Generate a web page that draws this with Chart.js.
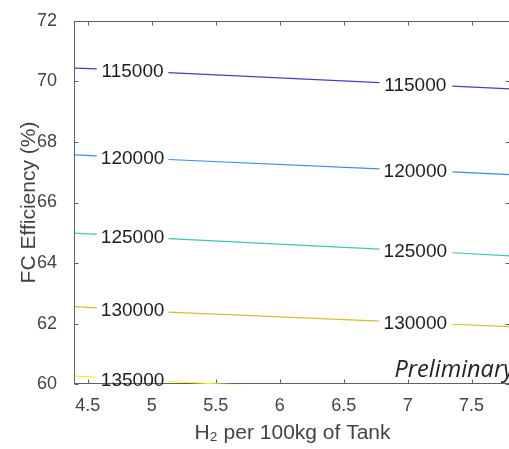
<!DOCTYPE html>
<html>
<head>
<meta charset="utf-8">
<script src="https://cdn.jsdelivr.net/npm/chart.js@4.4.1/dist/chart.umd.min.js"></script>
<style>
    html, body { margin: 0; padding: 0; overflow: hidden; background: #fff; }
    #grafico { display: block; }
</style>
</head>
<body>
<canvas id="grafico" width="512" height="449"></canvas>
<script>
// ── Dados ────────────────────────────────────────────────────────
const niveis   = ['115000', '120000', '125000', '130000', '135000'];
// pontos em x: as posições com null são as lacunas onde fica o rótulo
const xPontos  = [4.4, 4.57, 4.85, 5.13, 6.78, 7.06, 7.35, 7.8];
const posRotulos = [2, 5];   // índices de xPontos onde vai o texto

const y115000 = [70.44, 70.41, null, 70.29, 69.96, null, 69.84, 69.75];
const y120000 = [67.57, 67.54, null, 67.42, 67.11, null, 67.01, 66.92];
const y125000 = [64.99, 64.95, null, 64.81, 64.46, null, 64.34, 64.24];
const y130000 = [62.56, 62.52, null, 62.38, 62.08, null, 61.98, 61.90];
const y135000 = [60.27, 60.23, null, 60.09, 59.75, null, 59.63, 59.54];
const series  = [y115000, y120000, y125000, y130000, y135000];

const xTicks = [4.5, 5, 5.5, 6, 6.5, 7, 7.5];
const yTicks = [60, 62, 64, 66, 68, 70, 72];

const cores = ['#4b3cbf', '#3a8ef2', '#3fc6bb', '#d5be33', '#f4ef1e'];

const fonteBase = '"Liberation Sans", Arial, sans-serif';

// ── Moldura com ticks para dentro (estilo MATLAB) ────────────────
const molduraPlugin = {
    id: 'moldura',
    beforeDatasetsDraw(chart) {
        const { ctx, chartArea: a, scales: { x, y } } = chart;
        const L = Math.round(a.left) - 0.5, R = Math.round(a.right) - 0.5;
        const T = Math.round(a.top) + 0.5,  B = Math.round(a.bottom) - 0.5;
        ctx.save();
        ctx.strokeStyle = '#606060';
        ctx.lineWidth = 1;
        ctx.strokeRect(L, T, R - L, B - T);
        ctx.beginPath();
        xTicks.forEach(v => {
            const px = Math.round(x.getPixelForValue(v)) + 0.5;
            ctx.moveTo(px, B); ctx.lineTo(px, B - 4);
            ctx.moveTo(px, T); ctx.lineTo(px, T + 4);
        });
        yTicks.forEach(v => {
            const py = Math.round(y.getPixelForValue(v)) + 0.5;
            ctx.moveTo(L, py); ctx.lineTo(L + 4, py);
            ctx.moveTo(R, py); ctx.lineTo(R - 4, py);
        });
        ctx.stroke();
        ctx.restore();
    },
    afterDatasetsDraw(chart) {
        const { ctx, scales: { x, y } } = chart;
        ctx.save();
        ctx.font = '19px ' + fonteBase;
        ctx.fillStyle = '#1e1e1e';
        ctx.textAlign = 'center';
        ctx.textBaseline = 'middle';
        chart.data.datasets.forEach((ds, i) => {
            posRotulos.forEach(k => {
                const yv = (series[i][k - 1] + series[i][k + 1]) / 2;
                if (yv < y.min) return;
                ctx.fillText(niveis[i], x.getPixelForValue(xPontos[k]), y.getPixelForValue(yv) + 1);
            });
        });
        // marca d'água "Preliminary"
        ctx.font = 'italic 23.5px "Open Sans", sans-serif';
        ctx.fillStyle = '#222';
        ctx.textAlign = 'right';
        ctx.textBaseline = 'alphabetic';
        ctx.fillText('Preliminary', chart.chartArea.right + 4, chart.chartArea.bottom - 7);
        ctx.restore();
    }
};

const datasets = series.map((ys, i) => ({
    label: niveis[i],
    data: xPontos.map((xv, k) => ({ x: xv, y: ys[k] })),
    borderColor: cores[i],
    borderWidth: 1.2,
    pointRadius: 0,
    tension: 0,
    spanGaps: false
}));

new Chart(document.getElementById('grafico'), {
    type: 'line',
    data: { datasets },
    options: {
        responsive: false,
        animation: false,
        layout: { padding: { left: 0, right: 2, top: 20, bottom: 0 } },
        plugins: { legend: { display: false }, tooltip: { enabled: false } },
        scales: {
            x: {
                type: 'linear',
                min: 4.4, max: 7.8,
                afterBuildTicks: s => { s.ticks = xTicks.map(v => ({ value: v })); },
                grid: { display: false },
                border: { display: false },
                ticks: {
                    color: '#444', padding: 3, maxRotation: 0, autoSkip: false,
                    callback: v => String(v),
                    font: { size: 18, family: fonteBase }
                },
                title: {
                    display: true, text: 'H₂ per 100kg of Tank', color: '#444',
                    padding: { top: 1, bottom: 3 },
                    font: { size: 21, family: fonteBase }
                }
            },
            y: {
                min: 60, max: 72,
                afterBuildTicks: s => { s.ticks = yTicks.map(v => ({ value: v })); },
                afterFit: s => { s.width = 75; },
                grid: { display: false },
                border: { display: false },
                ticks: {
                    color: '#444', padding: 10,
                    font: { size: 18, family: fonteBase }
                },
                title: {
                    display: true, text: 'FC Efficiency (%)', color: '#444',
                    padding: { top: 17, bottom: 0 },
                    font: { size: 21, family: fonteBase }
                }
            }
        }
    },
    plugins: [molduraPlugin]
});
</script>
</body>
</html>
